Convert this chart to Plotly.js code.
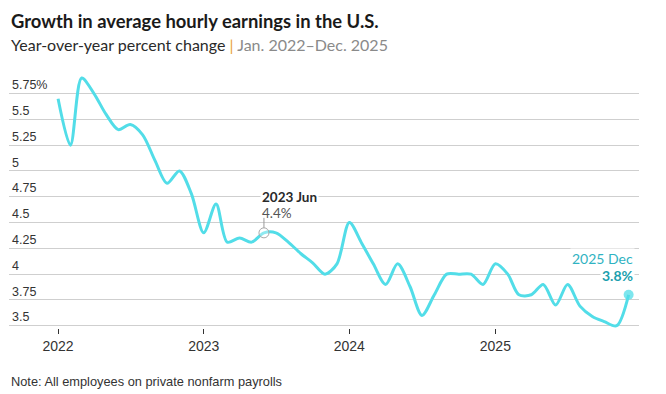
<!DOCTYPE html>
<html>
<head>
<meta charset="utf-8">
<script src="https://cdn.plot.ly/plotly-3.0.1.min.js"></script>
<style>html,body{margin:0;padding:0;background:#fff;}#chart{width:666px;height:394px;}</style>
</head>
<body>
<div id="chart"></div>
<script>
const months = [
  "2022-01-01","2022-02-01","2022-03-01","2022-04-01","2022-05-01","2022-06-01","2022-07-01","2022-08-01","2022-09-01","2022-10-01","2022-11-01","2022-12-01",
  "2023-01-01","2023-02-01","2023-03-01","2023-04-01","2023-05-01","2023-06-01","2023-07-01","2023-08-01","2023-09-01","2023-10-01","2023-11-01","2023-12-01",
  "2024-01-01","2024-02-01","2024-03-01","2024-04-01","2024-05-01","2024-06-01","2024-07-01","2024-08-01","2024-09-01","2024-10-01","2024-11-01","2024-12-01",
  "2025-01-01","2025-02-01","2025-03-01","2025-04-01","2025-05-01","2025-06-01","2025-07-01","2025-08-01","2025-09-01","2025-10-01","2025-11-01","2025-12-01"
];
const growth = [
  5.7, 5.25, 5.9, 5.75, 5.55, 5.4, 5.45, 5.35, 5.1, 4.88, 5.0, 4.78,
  4.4, 4.68, 4.31, 4.35, 4.31, 4.4, 4.4, 4.31, 4.2, 4.11, 4.0, 4.1,
  4.5, 4.3, 4.1, 3.9, 4.1, 3.88, 3.6, 3.8, 4.0, 4.0, 4.0, 3.9,
  4.1, 4.0, 3.8, 3.8, 3.9, 3.7, 3.9, 3.69, 3.59, 3.54, 3.5, 3.8
];
const yTickVals = [3.5, 3.75, 4, 4.25, 4.5, 4.75, 5, 5.25, 5.5, 5.75];
const yTickText = ["3.5", "3.75", "4", "4.25", "4.5", "4.75", "5", "5.25", "5.5", "5.75%"];
const xTickVals = ["2022-01-01", "2023-01-01", "2024-01-01", "2025-01-01"];
const xTickText = ["2022", "2023", "2024", "2025"];
const highlightIdx = 17;   // 2023 Jun
const lastIdx = months.length - 1; // 2025 Dec
const highlightLabel = "2023 Jun";
const lastLabel = "2025 Dec";

const lineTrace = {
  x: months, y: growth, type: "scatter", mode: "lines",
  line: {color: "#52dde8", width: 3, shape: "spline", smoothing: 0.85},
  hoverinfo: "skip", showlegend: false
};
const hiMarker = {
  x: [months[highlightIdx]], y: [growth[highlightIdx]], type: "scatter", mode: "markers",
  marker: {symbol: "circle", size: 10, color: "rgba(255,255,255,0.35)", line: {color: "#a8a8a8", width: 1}},
  hoverinfo: "skip", showlegend: false, cliponaxis: false
};
const lastMarker = {
  x: [months[lastIdx]], y: [growth[lastIdx]], type: "scatter", mode: "markers",
  marker: {symbol: "circle", size: 10, color: "rgba(82,221,232,0.75)"},
  hoverinfo: "skip", showlegend: false, cliponaxis: false
};

const plotBottom = 328, plotH = 258;
const py = p => (plotBottom - p) / plotH;

const layout = {
  width: 666, height: 394,
  margin: {l: 9, r: 27, t: 70, b: 66},
  paper_bgcolor: "#fff", plot_bgcolor: "#fff",
  xaxis: {
    type: "date", range: ["2021-08-31", "2025-12-27"],
    tickvals: xTickVals, ticktext: xTickText,
    showgrid: false, zeroline: false, showline: false,
    ticks: "outside", ticklen: 5, tickwidth: 1, tickcolor: "#333",
    tickfont: {family: "Liberation Sans, Arial, sans-serif", size: 14, color: "#333"}
  },
  yaxis: {
    range: [3.478, 5.978], tickvals: yTickVals, ticktext: yTickText,
    ticklabelposition: "inside top", ticks: "",
    showgrid: true, gridcolor: "#cfcfcf", gridwidth: 1,
    zeroline: false, showline: false,
    tickfont: {family: "Liberation Sans, Arial, sans-serif", size: 12.5, color: "#333"}
  },
  shapes: [{
    type: "line", xref: "x", yref: "y",
    x0: months[highlightIdx], x1: months[highlightIdx],
    ysizemode: "pixel", yanchor: growth[highlightIdx], y0: 5, y1: 15,
    line: {color: "#999", width: 1}
  }],
  annotations: [
    {xref: "paper", yref: "paper", x: 0, y: py(21), xanchor: "left", yanchor: "middle", showarrow: false,
     text: "<b>Growth in average hourly earnings in the U.S.</b>",
     font: {family: "Lato, sans-serif", size: 18.4, color: "#1a1a1a"}},
    {xref: "paper", yref: "paper", x: 0, y: py(44.5), xanchor: "left", yanchor: "middle", showarrow: false,
     text: "Year-over-year percent change <span style='color:#e8a23a'>|</span> <span style='color:#8a8a8a'>Jan. 2022–Dec. 2025</span>",
     font: {family: "Lato, sans-serif", size: 16, color: "#2a2a2a"}},
    {xref: "paper", yref: "paper", x: 0, y: py(381), xanchor: "left", yanchor: "middle", showarrow: false,
     text: "Note: All employees on private nonfarm payrolls",
     font: {family: "Liberation Sans, Arial, sans-serif", size: 12.8, color: "#333"}},
    {xref: "x", yref: "y", x: months[highlightIdx], y: growth[highlightIdx], xanchor: "left", yanchor: "middle",
     xshift: -4, yshift: 36, showarrow: false, bgcolor: "#fff", borderpad: 1,
     text: "<b>" + highlightLabel + "</b>",
     font: {family: "Lato, sans-serif", size: 13.5, color: "#2a2a2a"}},
    {xref: "x", yref: "y", x: months[highlightIdx], y: growth[highlightIdx], xanchor: "left", yanchor: "middle",
     xshift: -4, yshift: 20, showarrow: false,
     text: growth[highlightIdx].toFixed(1) + "%",
     font: {family: "Lato, sans-serif", size: 13.5, color: "#555"}},
    {xref: "x", yref: "y", x: months[lastIdx], y: growth[lastIdx], xanchor: "right", yanchor: "middle",
     xshift: 6, yshift: 36, showarrow: false, bgcolor: "#fff", borderpad: 1,
     text: lastLabel,
     font: {family: "Lato, sans-serif", size: 14, color: "#2fb3c2"}},
    {xref: "x", yref: "y", x: months[lastIdx], y: growth[lastIdx], xanchor: "right", yanchor: "middle",
     xshift: 6, yshift: 19, showarrow: false, bgcolor: "#fff", borderpad: 1,
     text: "<b>" + growth[lastIdx].toFixed(1) + "%</b>",
     font: {family: "Lato, sans-serif", size: 14, color: "#1c9fae"}}
  ]
};

Plotly.newPlot("chart", [lineTrace, hiMarker, lastMarker], layout, {displayModeBar: false, staticPlot: true});
</script>
</body>
</html>
